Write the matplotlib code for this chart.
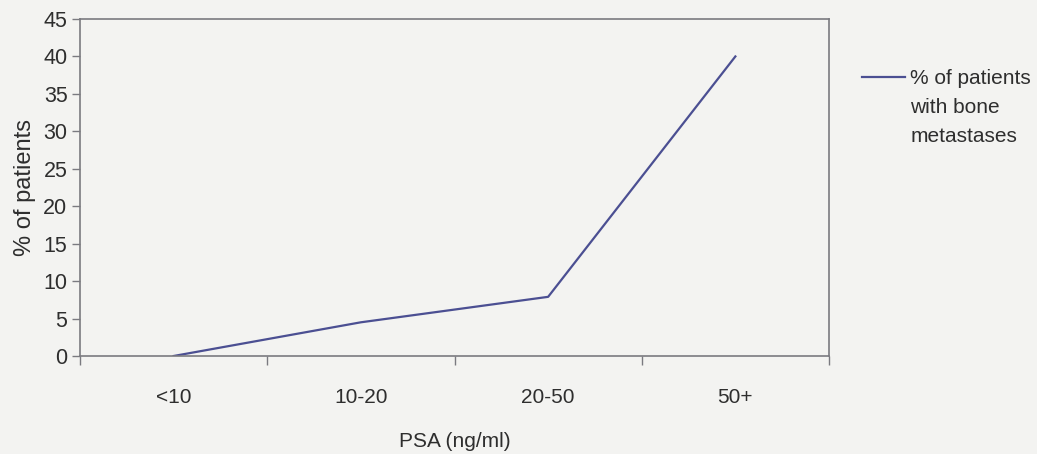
import matplotlib
matplotlib.use("Agg")
import matplotlib.pyplot as plt
from matplotlib.legend_handler import HandlerLine2D

categories = ["<10", "10-20", "20-50", "50+"]
pct_bone_mets = [0, 4.5, 7.9, 40]
y_ticks = [0, 5, 10, 15, 20, 25, 30, 35, 40, 45]

plt.rcParams['font.family'] = ['Liberation Sans', 'DejaVu Sans']

bg = '#f3f3f1'
line_col = '#4b4f92'
axis_col = '#7a7a80'
txt_col = '#2e2e2e'


class TopHandler(HandlerLine2D):
    def __init__(self, shift, **kw):
        super().__init__(**kw)
        self.shift = shift

    def create_artists(self, legend, orig_handle, xdescent, ydescent, width,
                       height, fontsize, trans):
        arts = super().create_artists(legend, orig_handle, xdescent, ydescent,
                                      width, height, fontsize, trans)
        for a in arts:
            y = a.get_ydata()
            a.set_ydata([v + self.shift for v in y])
        return arts


W, H = 1037, 454
fig = plt.figure(figsize=(W / 100, H / 100), dpi=100, facecolor=bg)
ax = fig.add_axes([80 / W, 1 - 356 / H, 749 / W, 337 / H], facecolor=bg)

x = list(range(len(categories)))
line, = ax.plot(x, pct_bone_mets, color=line_col, lw=1.6,
                label="% of patients\nwith bone\nmetastases")

ax.set_xlim(-0.5, len(categories) - 0.5)
ax.set_ylim(0, 45)
ax.set_yticks(y_ticks)
ax.set_yticklabels([str(v) for v in y_ticks], fontsize=15.5, color=txt_col)
ax.set_xticks(x)
ax.set_xticklabels(categories, fontsize=15, color=txt_col)
ax.tick_params(axis='x', length=0, pad=23)
ax.set_xticks([i - 0.5 for i in range(len(categories) + 1)], minor=True)
ax.tick_params(axis='x', which='minor', length=6.5, color=axis_col, width=1)
ax.tick_params(axis='y', length=6, color=axis_col, width=1, pad=3)

for s in ax.spines.values():
    s.set_color(axis_col)
    s.set_linewidth(1.2)

ax.set_xlabel("PSA (ng/ml)", fontsize=15, color=txt_col, labelpad=18)
ax.set_ylabel("% of patients", fontsize=17, color=txt_col, labelpad=5)

fs = 15
ls = 1.68
leg = ax.legend(handles=[line], loc='upper left',
                bbox_to_anchor=(862 / W, 1 - 69 / H), bbox_transform=fig.transFigure,
                frameon=False, fontsize=fs, handlelength=2.07, handletextpad=0.24,
                borderpad=0, borderaxespad=0,
                handler_map={line: TopHandler(shift=22.4)})
for t in leg.get_texts():
    t.set_color(txt_col)
    t.set_linespacing(ls)

fig.savefig("out.png", dpi=100, facecolor=bg)
